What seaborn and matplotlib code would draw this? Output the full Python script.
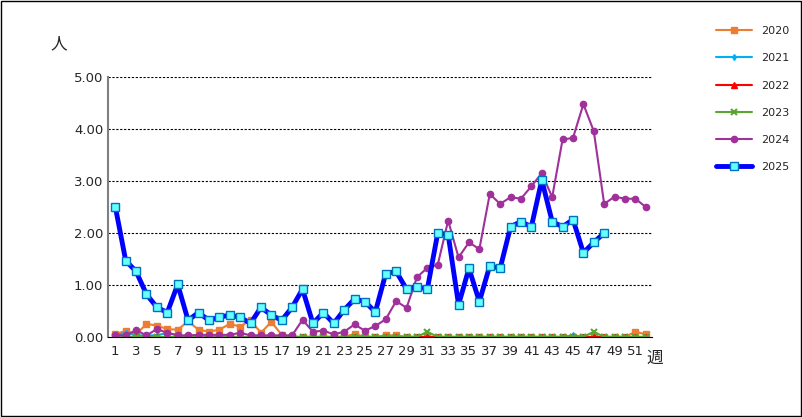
import matplotlib
matplotlib.use('Agg')
import matplotlib.pyplot as plt
import seaborn as sns
import pandas as pd
import numpy as np

weeks = list(range(1, 53))

y2020 = [0.05, 0.12, 0.05, 0.25, 0.22, 0.15, 0.14, 0.3, 0.14, 0.1, 0.14, 0.25, 0.2, 0.32, 0.08, 0.29, 0.04, 0.0,
         0.0, 0.0, 0.0, 0.0, 0.0, 0.06, 0.0, 0.0, 0.03, 0.03, 0.0, 0.0, 0.0, 0.0, 0.0, 0.0, 0.0, 0.0,
         0.0, 0.0, 0.0, 0.0, 0.0, 0.0, 0.0, 0.0, 0.0, 0.0, 0.0, 0.0, 0.0, 0.0, 0.1, 0.05]
y2021 = [0.03, 0.08, 0.03, 0.03, 0.03, 0.08, 0.03, 0.0, 0.0, 0.0, 0.0, 0.0, 0.0, 0.0, 0.0, 0.0, 0.0, 0.0,
         0.0, 0.0, 0.0, 0.0, 0.0, 0.0, 0.0, 0.0, 0.0, 0.0, 0.0, 0.0, 0.0, 0.0, 0.0, 0.0, 0.0, 0.0,
         0.0, 0.0, 0.0, 0.0, 0.0, 0.0, 0.0, 0.0, 0.03, 0.0, 0.0, 0.0, 0.0, 0.0, 0.0, 0.0]
y2022 = [0.0] * 52
y2023 = [0.0] * 30 + [0.1] + [0.0] * 15 + [0.1] + [0.0] * 5
y2024 = [0.03, 0.03, 0.13, 0.03, 0.15, 0.08, 0.03, 0.03, 0.04, 0.04, 0.04, 0.04, 0.08, 0.03, 0.03, 0.03, 0.03, 0.03,
         0.33, 0.1, 0.12, 0.05, 0.1, 0.24, 0.12, 0.21, 0.34, 0.69, 0.56, 1.15, 1.33, 1.39, 2.24, 1.53, 1.82, 1.69,
         2.75, 2.56, 2.69, 2.66, 2.9, 3.15, 2.69, 3.8, 3.83, 4.48, 3.96, 2.56, 2.7, 2.66, 2.66, 2.5]
y2025 = [2.51, 1.47, 1.26, 0.82, 0.57, 0.47, 1.01, 0.32, 0.47, 0.32, 0.38, 0.42, 0.38, 0.26, 0.57, 0.42, 0.32, 0.57,
         0.92, 0.26, 0.47, 0.26, 0.52, 0.73, 0.68, 0.48, 1.22, 1.26, 0.92, 0.97, 0.92, 2.0, 1.97, 0.62, 1.32, 0.68,
         1.37, 1.32, 2.12, 2.22, 2.12, 3.02, 2.22, 2.12, 2.26, 1.62, 1.82, 2.0]

series = [
    ('2020', y2020, '#ED7D31', 's', 1.5, 4.5, '#ED7D31'),
    ('2021', y2021, '#00B0F0', 'd', 1.5, 3, '#00B0F0'),
    ('2022', y2022, '#FF0000', '^', 1.5, 4, '#FF0000'),
    ('2023', y2023, '#5BA630', 'x', 1.5, 5, '#5BA630'),
    ('2024', y2024, '#A0309A', 'o', 1.5, 4.5, '#A0309A'),
    ('2025', y2025, '#0000FF', 's', 3.5, 6, '#66FFFF'),
]

sns.set_style('white')
fig = plt.figure(figsize=(8.03, 4.17), dpi=100)
ax = fig.add_axes([0.1345, 0.192, 0.6775, 0.623])

for name, vals, col, mk, lw, ms, fc in series:
    df = pd.DataFrame({'week': weeks[:len(vals)], 'v': vals})
    sns.lineplot(data=df, x='week', y='v', ax=ax, color=col, lw=lw, marker=mk,
                 markersize=ms, markerfacecolor=fc, markeredgecolor='#0070C0' if name == '2025' else col,
                 markeredgewidth=1 if mk != 'x' else 1.5, label=name)

ax.set_xlim(0.3, 52.6)
ax.set_ylim(0, 5)
ax.set_yticks(np.arange(0, 5.01, 1))
ax.set_yticklabels([f'{v:.2f}' for v in np.arange(0, 5.01, 1)], fontsize=9.5)
ax.set_xticks(weeks)
ax.set_xticklabels([str(w) if w % 2 == 1 else '' for w in weeks], fontsize=9.5)
ax.tick_params(axis='x', length=3, direction='in', pad=6)
ax.tick_params(axis='y', length=0)
ax.yaxis.grid(True, color='black', ls=(0, (2, 1.5)), lw=0.8)
ax.set_xlabel('')
ax.set_ylabel('')
for s in ['top', 'right']:
    ax.spines[s].set_visible(False)
ax.spines['left'].set_color('#808080')
ax.spines['left'].set_linewidth(1.5)
ax.spines['bottom'].set_color('black')

fig.text(0.063, 0.885, '人', fontsize=12, family=['Noto Sans CJK JP', 'DejaVu Sans'])
fig.text(0.805, 0.13, '週', fontsize=12, family=['Noto Sans CJK JP', 'DejaVu Sans'])

ax.legend(loc='upper left', bbox_to_anchor=(1.1, 1.235), frameon=False, fontsize=8,
          handlelength=3.2, labelspacing=1.55)

fig.patches.append(plt.Rectangle((0.001, 0.002), 0.997, 0.996, transform=fig.transFigure,
                                 fill=False, edgecolor='black', lw=1))
fig.savefig('out.png', dpi=100)
